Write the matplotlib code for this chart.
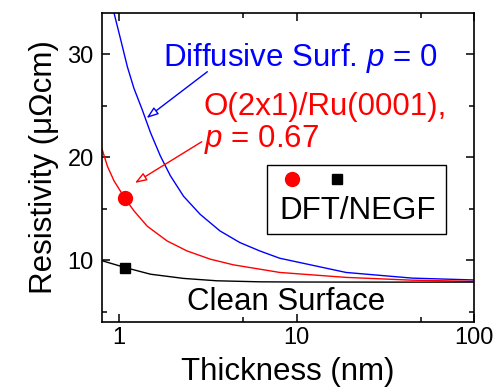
import matplotlib.pyplot as plt
from matplotlib.patches import Rectangle
from matplotlib.ticker import FixedLocator, FixedFormatter, NullFormatter

plt.rcParams['font.family'] = ['Liberation Sans', 'DejaVu Sans']
plt.rcParams['mathtext.fontset'] = 'custom'
plt.rcParams['mathtext.rm'] = 'Liberation Sans'
plt.rcParams['mathtext.it'] = 'Liberation Sans:italic'

# thickness (nm) / resistivity (uOhm cm)
diffuse_t = [0.935, 1.02, 1.111, 1.21, 1.349, 1.50, 1.708, 1.943, 2.307, 2.862, 3.70, 4.79, 6.20,
             8.03, 19.0, 44.8, 100]
diffuse_rho = [34.0, 31.4, 28.8, 26.7, 24.6, 22.4, 20.1, 18.2, 16.2, 14.45, 12.84, 11.71, 10.9,
               10.19, 8.81, 8.26, 8.08]

oxide_t = [0.8, 0.859, 0.935, 1.078, 1.21, 1.439, 1.862, 2.41, 3.26, 4.40, 6.20, 8.03, 19.0, 44.8, 100]
oxide_rho = [20.8, 19.1, 17.7, 16.0, 14.8, 13.3, 11.87, 10.9, 10.1, 9.55, 9.13, 8.81, 8.33, 8.06, 7.94]

clean_t = [0.8, 1.078, 1.50, 2.307, 3.55, 6.2, 10, 30, 100]
clean_rho = [9.95, 9.29, 8.64, 8.23, 8.0, 7.9, 7.88, 7.87, 7.87]

# DFT/NEGF points
dft_t = 1.078
dft_oxide = 16.0
dft_clean = 9.27

x_major = [1, 10, 100]
x_labels = ['1', '10', '100']
x_minor = [5, 50]
y_major = [10, 20, 30]
y_minor = [5, 15, 25]

fig = plt.figure(figsize=(5.03, 3.87), dpi=100)
ax = fig.add_axes([0.2028, 0.168, 0.7395, 0.7984])

ax.plot(diffuse_t, diffuse_rho, color='#0000ff', lw=1.0)
ax.plot(oxide_t, oxide_rho, color='#ff0000', lw=1.0)
ax.plot(clean_t, clean_rho, color='black', lw=1.0)
red_dot, = ax.plot([dft_t], [dft_oxide], 'o', color='#ff0000', ms=10, ls='none')
black_sq, = ax.plot([dft_t], [dft_clean], 's', color='black', ms=7.5, ls='none')

ax.set_xscale('log')
ax.set_xlim(0.8, 100)
ax.set_ylim(4, 34)
ax.xaxis.set_major_locator(FixedLocator(x_major))
ax.xaxis.set_major_formatter(FixedFormatter(x_labels))
ax.xaxis.set_minor_locator(FixedLocator(x_minor))
ax.xaxis.set_minor_formatter(NullFormatter())
ax.yaxis.set_major_locator(FixedLocator(y_major))
ax.yaxis.set_minor_locator(FixedLocator(y_minor))

ax.tick_params(which='both', direction='in', top=True, right=True, width=1.1, labelsize=17)
ax.tick_params(which='major', length=6)
ax.tick_params(which='minor', length=3.5)
ax.tick_params(axis='x', which='major', pad=3.5)
ax.tick_params(axis='y', which='major', pad=6)
for s in ax.spines.values():
    s.set_linewidth(1.2)

ax.set_xlabel('Thickness (nm)', fontsize=22.5)
ax.xaxis.set_label_coords(0.5, -0.188)
ax.xaxis.label.set_va('baseline')
ax.set_ylabel('Resistivity (μΩcm)', fontsize=22.5, labelpad=6)

ax.text(1.77, 28.9, 'Diffusive Surf. $p$ = 0', color='#0000ff', fontsize=22.5, va='baseline')
ax.text(3.0, 24.1, 'O(2x1)/Ru(0001),', color='#ff0000', fontsize=22.5, va='baseline')
ax.text(3.0, 21.0, '$p$ = 0.67', color='#ff0000', fontsize=22.5, va='baseline')
ax.text(2.40, 5.2, 'Clean Surface', color='black', fontsize=22.5, va='baseline')

ax.annotate('', xy=(1.427, 23.8), xytext=(3.14, 28.3),
            arrowprops=dict(arrowstyle='-|>,head_length=0.7,head_width=0.25',
                            ec='#0000ff', fc='white', lw=1.0, shrinkA=0, shrinkB=0))
ax.annotate('', xy=(1.226, 17.5), xytext=(2.92, 21.5),
            arrowprops=dict(arrowstyle='-|>,head_length=0.7,head_width=0.25',
                            ec='#ff0000', fc='white', lw=1.0, shrinkA=0, shrinkB=0))

# legend box: frame drawn separately, markers above the label
ax.add_patch(Rectangle((0.444, 0.285), 0.482, 0.223, transform=ax.transAxes,
                       fc='white', ec='black', lw=1.0, zorder=4))
leg = ax.legend([red_dot, black_sq], ['', ''], ncol=2, title='DFT/NEGF',
                title_fontsize=22.5, fontsize=4, loc='upper left',
                bbox_to_anchor=(0.476, 0.470), borderaxespad=0, alignment='left',
                handlelength=4.7, handletextpad=0, columnspacing=3.4,
                borderpad=0, labelspacing=2.5, frameon=False)
leg.set_zorder(5)
leg._legend_box._children.reverse()

fig.savefig('out.png', dpi=100)
